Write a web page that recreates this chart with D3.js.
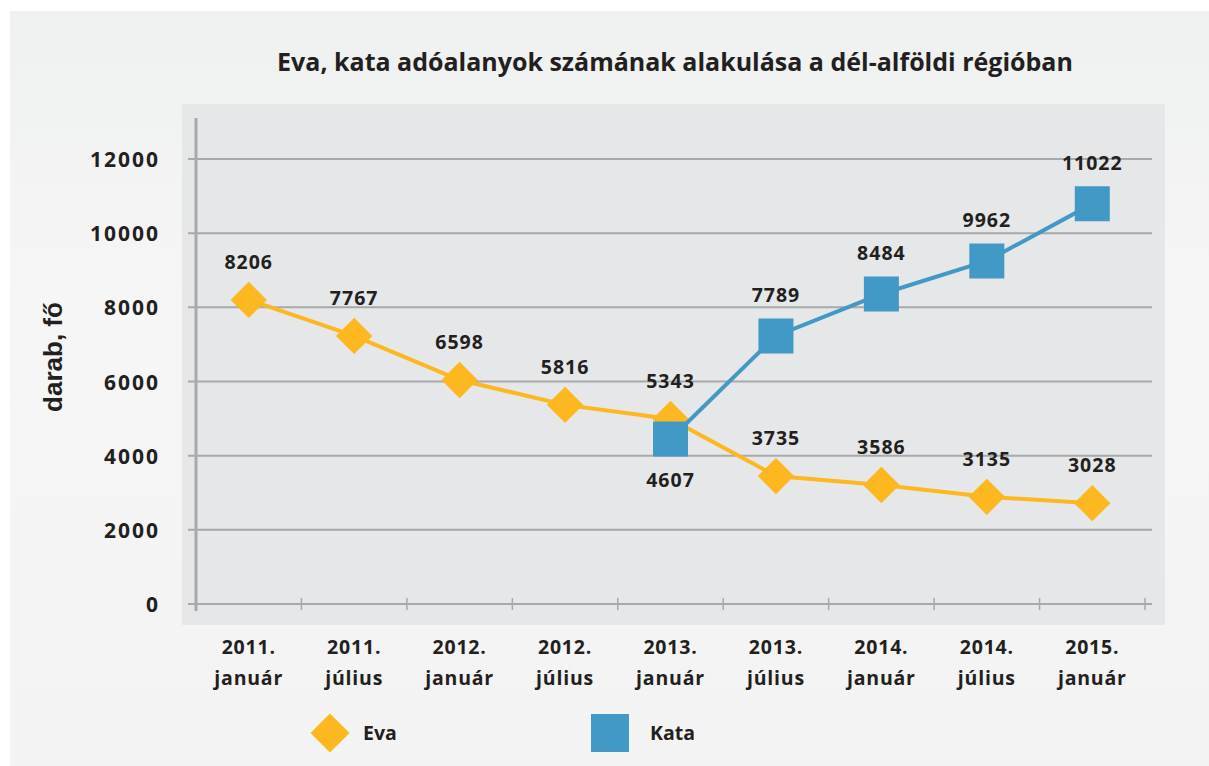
<!DOCTYPE html>
<html>
<head>
<meta charset="utf-8">
<script src="https://cdn.jsdelivr.net/npm/d3@7"></script>
<style>
  body { margin: 0; background: #fff; }
  svg text { fill: #231f20; }
</style>
</head>
<body>
<svg id="chart" width="1209" height="766"></svg>
<script>
// categories on the x axis (two lines each)
const periods = ["2011. január", "2011. július", "2012. január", "2012. július", "2013. január",
                 "2013. július", "2014. január", "2014. július", "2015. január"];

// values as plotted in the picture
const evaValues  = [8200, 7230, 6040, 5370, 4990, 3450, 3210, 2890, 2720];
const kataValues = [null, null, null, null, 4450, 7230, 8360, 9250, 10790];

// value labels as printed
const evaLabels  = ["8206", "7767", "6598", "5816", "5343", "3735", "3586", "3135", "3028"];
const kataLabels = [null, null, null, null, "4607", "7789", "8484", "9962", "11022"];

const yTicks = [0, 2000, 4000, 6000, 8000, 10000, 12000];

const orange = "#fdb71f";
const blue = "#4299c6";

const svg = d3.select("#chart");

// card background
const defs = svg.append("defs");
const grad = defs.append("linearGradient").attr("id", "cardGrad")
    .attr("x1", 0).attr("y1", 0).attr("x2", 0).attr("y2", 1);
grad.append("stop").attr("offset", "0%").attr("stop-color", "#eff0f0");
grad.append("stop").attr("offset", "40%").attr("stop-color", "#f6f6f6");
grad.append("stop").attr("offset", "100%").attr("stop-color", "#f3f3f3");

svg.append("rect").attr("x", 10).attr("y", 11).attr("width", 1199).attr("height", 755)
    .attr("fill", "url(#cardGrad)");

// plot area
svg.append("rect").attr("x", 182).attr("y", 104).attr("width", 983).attr("height", 521)
    .attr("fill", "#e6e7e9");

const x = d3.scaleBand().domain(periods).range([196, 1145]);
const y = d3.scaleLinear().domain([0, 12000]).range([604, 159]);
const cx = d => x(d) + x.bandwidth() / 2;

// title
svg.append("text")
    .attr("x", 675).attr("y", 71)
    .attr("text-anchor", "middle")
    .style("font-family", "'Open Sans', sans-serif")
    .style("font-weight", 700)
    .style("font-size", "25px")
    .text("Eva, kata adóalanyok számának alakulása a dél-alföldi régióban");

// grid lines
svg.append("g")
    .selectAll("line")
    .data(yTicks)
    .join("line")
    .attr("x1", 188).attr("x2", 1152)
    .attr("y1", d => y(d)).attr("y2", d => y(d))
    .attr("stroke", "#a8a9ab").attr("stroke-width", 2);

// y axis line
svg.append("line")
    .attr("x1", 196).attr("x2", 196).attr("y1", 118).attr("y2", 611)
    .attr("stroke", "#a8a9ab").attr("stroke-width", 3);

// y tick labels
svg.append("g")
    .selectAll("text")
    .data(yTicks)
    .join("text")
    .attr("x", 160).attr("y", d => y(d) + 8)
    .attr("text-anchor", "end")
    .style("font-family", "'Open Sans', sans-serif")
    .style("font-weight", 700)
    .style("font-size", "21px")
    .style("letter-spacing", "2px")
    .text(d => d);

// y axis title
svg.append("text")
    .attr("transform", "translate(62,357) rotate(-90)")
    .attr("text-anchor", "middle")
    .style("font-family", "'Liberation Sans', Arial, sans-serif")
    .style("font-weight", 700)
    .style("font-size", "26px")
    .text("darab, fő");

// x axis ticks at band edges
const edges = periods.map(p => x(p)).concat([x.range()[1]]);
svg.append("g")
    .selectAll("line")
    .data(edges)
    .join("line")
    .attr("x1", d => d).attr("x2", d => d)
    .attr("y1", 598).attr("y2", 610)
    .attr("stroke", "#a8a9ab").attr("stroke-width", 1.5);

// x labels
const xl = svg.append("g")
    .selectAll("text")
    .data(periods)
    .join("text")
    .attr("text-anchor", "middle")
    .style("font-family", "'Open Sans', sans-serif")
    .style("font-weight", 700)
    .style("font-size", "19.5px")
    .style("letter-spacing", "0.8px");
xl.append("tspan").attr("x", cx).attr("y", 654).text(d => d.split(" ")[0]);
xl.append("tspan").attr("x", cx).attr("y", 685).text(d => d.split(" ")[1]);

// lines
const evaPts = periods.map((p, i) => ({ p, v: evaValues[i], label: evaLabels[i] }));
const kataPts = periods.map((p, i) => ({ p, v: kataValues[i], label: kataLabels[i] }))
    .filter(d => d.v !== null);

const line = d3.line().x(d => cx(d.p)).y(d => y(d.v));

svg.append("path").datum(evaPts)
    .attr("d", line).attr("fill", "none")
    .attr("stroke", orange).attr("stroke-width", 4);

svg.append("g")
    .selectAll("path")
    .data(evaPts)
    .join("path")
    .attr("d", d3.symbol(d3.symbolSquare, 660))
    .attr("transform", d => `translate(${cx(d.p)},${y(d.v)}) rotate(45)`)
    .attr("fill", orange);

svg.append("path").datum(kataPts)
    .attr("d", line).attr("fill", "none")
    .attr("stroke", blue).attr("stroke-width", 4);

svg.append("g")
    .selectAll("path")
    .data(kataPts)
    .join("path")
    .attr("d", d3.symbol(d3.symbolSquare, 1225))
    .attr("transform", d => `translate(${cx(d.p)},${y(d.v)})`)
    .attr("fill", blue);

// value labels
const labelStyle = sel => sel
    .attr("text-anchor", "middle")
    .style("font-family", "'Open Sans', sans-serif")
    .style("font-weight", 700)
    .style("font-size", "19.5px")
    .style("letter-spacing", "1px");

svg.append("g")
    .selectAll("text")
    .data(evaPts)
    .join("text")
    .call(labelStyle)
    .attr("x", d => cx(d.p))
    .attr("y", d => y(d.v) - 31)
    .text(d => d.label);

svg.append("g")
    .selectAll("text")
    .data(kataPts)
    .join("text")
    .call(labelStyle)
    .attr("x", d => cx(d.p))
    .attr("y", (d, i) => i === 0 ? y(d.v) + 48 : y(d.v) - 34)
    .text(d => d.label);

// legend
const legend = svg.append("g");
legend.append("path")
    .attr("d", d3.symbol(d3.symbolSquare, 760))
    .attr("transform", "translate(330,733) rotate(45)")
    .attr("fill", orange);
legend.append("text").attr("x", 363).attr("y", 740)
    .style("font-family", "'Open Sans', sans-serif")
    .style("font-weight", 700).style("font-size", "19.5px")
    .text("Eva");
legend.append("path")
    .attr("d", d3.symbol(d3.symbolSquare, 1444))
    .attr("transform", "translate(610,733)")
    .attr("fill", blue);
legend.append("text").attr("x", 650).attr("y", 740)
    .style("font-family", "'Open Sans', sans-serif")
    .style("font-weight", 700).style("font-size", "19.5px")
    .text("Kata");
</script>
</body>
</html>
